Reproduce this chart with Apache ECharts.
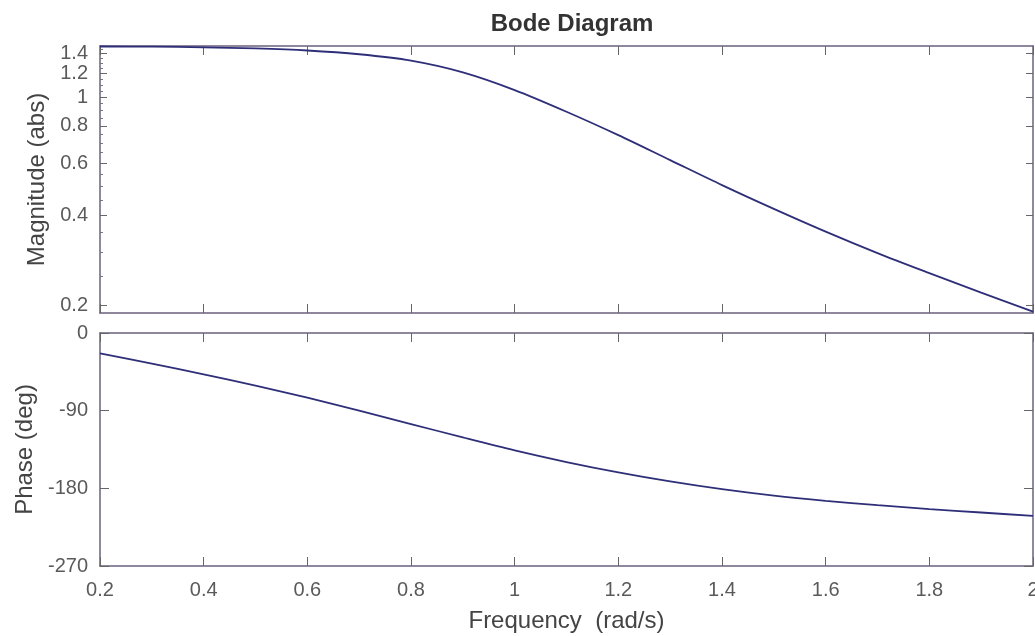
<!DOCTYPE html>
<html>
<head>
<meta charset="utf-8">
<title>Bode Diagram</title>
<script src="https://cdn.jsdelivr.net/npm/echarts@6/dist/echarts.min.js"></script>
<style>
  html, body { margin: 0; padding: 0; background: #fff; }
  #chart { width: 1035px; height: 636px; }
</style>
</head>
<body>
<div id="chart"></div>
<script>
// frequency samples (rad/s)
const freq = [0.2, 0.3, 0.4, 0.5, 0.6, 0.7, 0.8, 0.9, 1.0, 1.1,
              1.2, 1.3, 1.4, 1.5, 1.6, 1.7, 1.8, 1.9, 2.0];
// magnitude (abs)
const magnitude = [1.479, 1.477, 1.470, 1.457, 1.434, 1.393, 1.326, 1.211, 1.056, 0.893,
                   0.745, 0.614, 0.506, 0.421, 0.353, 0.299, 0.256, 0.220, 0.190];
// phase (deg)
const phase = [-23.5, -35.5, -48, -61, -75, -90, -105.5, -121, -136, -149.5,
               -161.5, -172, -181, -188.5, -194.5, -199.5, -204, -208, -212];

const magTicks = [0.2, 0.4, 0.6, 0.8, 1, 1.2, 1.4];
const magMinorTicks = [0.25, 0.3, 0.35, 0.45, 0.5, 0.55, 0.65, 0.7, 0.75, 0.85, 0.9, 0.95,
                       1.05, 1.1, 1.15, 1.25, 1.3, 1.35, 1.45];
const phaseTicks = [-270, -180, -90, 0];

const lineColor = '#2e2f78';
const boxColor = '#6b627e';
const textColor = '#5a5a5a';
const font = 'Liberation Sans, Arial, sans-serif';

const pairs = (xs, ys) => xs.map((x, i) => [x, ys[i]]);

function xAx(grid, pos, showLabels, name) {
  return {
    type: 'value', gridIndex: grid, position: pos,
    min: 0.2, max: 2, interval: 0.2,
    name: name || '', nameLocation: 'middle', nameGap: 43,
    nameTextStyle: { color: '#444', fontSize: 24, fontFamily: font },
    axisLine: { show: true, onZero: false, lineStyle: { color: boxColor, width: 1.5 } },
    axisTick: { show: true, inside: true, length: 9, lineStyle: { color: '#666' } },
    axisLabel: { show: showLabels, margin: 14, color: textColor, fontSize: 20, fontFamily: font,
                 formatter: v => String(Math.round(v * 10) / 10) },
    splitLine: { show: false }
  };
}

const chart = echarts.init(document.getElementById('chart'), null, { renderer: 'canvas' });

const option = {
  animation: false,
  backgroundColor: '#fff',
  title: {
    text: 'Bode Diagram', left: 567, top: 7, textAlign: 'center',
    textStyle: { fontSize: 24, fontWeight: 'bold', color: '#333', fontFamily: font }
  },
  grid: [
    { left: 100, top: 46, width: 933, height: 267, outerBoundsMode: 'none', containLabel: false },
    { left: 100, top: 333, width: 933, height: 233, outerBoundsMode: 'none', containLabel: false }
  ],
  xAxis: [
    xAx(0, 'bottom', false),
    xAx(0, 'top', false),
    xAx(1, 'bottom', true, 'Frequency  (rad/s)'),
    xAx(1, 'top', false)
  ],
  yAxis: [
    // magnitude, left side with labels
    {
      type: 'log', gridIndex: 0, position: 'left', min: 0.188, max: 1.485,
      name: 'Magnitude (abs)', nameLocation: 'middle', nameGap: 47,
      nameTextStyle: { color: '#444', fontSize: 24, fontFamily: font },
      axisLine: { show: true, lineStyle: { color: boxColor, width: 1.5 } },
      axisTick: { show: true, inside: true, length: 7, customValues: magTicks, lineStyle: { color: '#666' } },
      axisLabel: { show: true, margin: 12, color: textColor, fontSize: 20, fontFamily: font,
                   customValues: magTicks },
      splitLine: { show: false }
    },
    // magnitude, left minor ticks
    {
      type: 'log', gridIndex: 0, position: 'left', min: 0.188, max: 1.485,
      axisLine: { show: false },
      axisTick: { show: true, inside: true, length: 3, customValues: magMinorTicks, lineStyle: { color: '#777' } },
      axisLabel: { show: false }, splitLine: { show: false }
    },
    // magnitude, right box side
    {
      type: 'log', gridIndex: 0, position: 'right', min: 0.188, max: 1.485,
      axisLine: { show: true, lineStyle: { color: boxColor, width: 1.5 } },
      axisTick: { show: true, inside: true, length: 7, customValues: magTicks, lineStyle: { color: '#666' } },
      axisLabel: { show: false }, splitLine: { show: false }
    },
    // phase, left side with labels
    {
      type: 'value', gridIndex: 1, position: 'left', min: -270, max: 0, interval: 90,
      name: 'Phase (deg)', nameLocation: 'middle', nameGap: 62,
      nameTextStyle: { color: '#444', fontSize: 24, fontFamily: font },
      axisLine: { show: true, onZero: false, lineStyle: { color: boxColor, width: 1.5 } },
      axisTick: { show: true, inside: true, length: 9, lineStyle: { color: '#666' } },
      axisLabel: { show: true, margin: 12, color: textColor, fontSize: 20, fontFamily: font,
                   customValues: phaseTicks },
      splitLine: { show: false }
    },
    // phase, right box side
    {
      type: 'value', gridIndex: 1, position: 'right', min: -270, max: 0, interval: 90,
      axisLine: { show: true, onZero: false, lineStyle: { color: boxColor, width: 1.5 } },
      axisTick: { show: true, inside: true, length: 9, lineStyle: { color: '#666' } },
      axisLabel: { show: false }, splitLine: { show: false }
    }
  ],
  series: [
    {
      type: 'line', xAxisIndex: 0, yAxisIndex: 0,
      data: pairs(freq, magnitude), smooth: 0.3, showSymbol: false,
      lineStyle: { color: lineColor, width: 1.8 }
    },
    {
      type: 'line', xAxisIndex: 2, yAxisIndex: 3,
      data: pairs(freq, phase), smooth: 0.3, showSymbol: false,
      lineStyle: { color: lineColor, width: 1.8 }
    }
  ]
};

chart.setOption(option, true);

window.addEventListener('resize', () => {
  if (chart) {
    chart.resize();
  }
});
</script>
</body>
</html>
